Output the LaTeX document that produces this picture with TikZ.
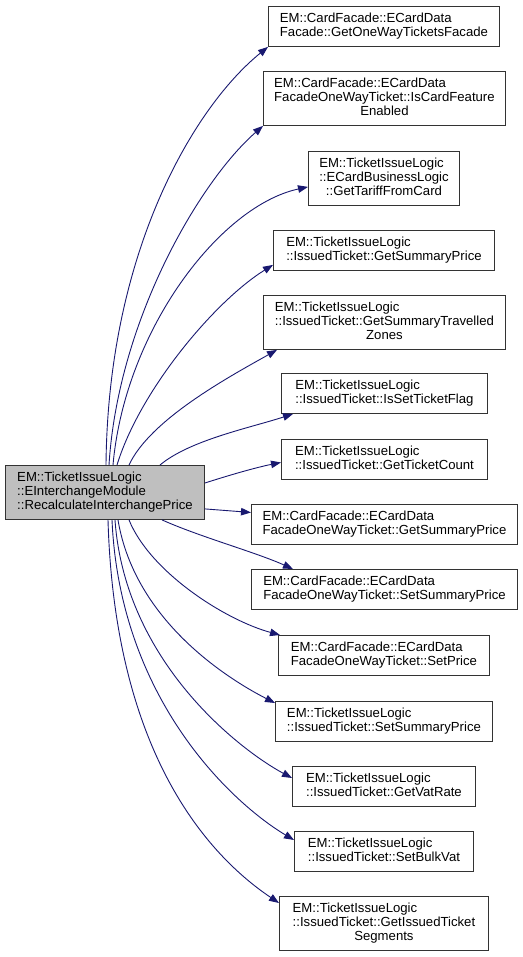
\documentclass[tikz,border=0pt]{standalone}
\usepackage{fontspec}
\setmainfont{Liberation Sans}
\usetikzlibrary{arrows.meta}
\definecolor{callc}{HTML}{191970}
\definecolor{boxc}{HTML}{333333}
\definecolor{mainfill}{HTML}{BFBFBF}
\newcommand{\fnl}[1]{\begin{tabular}{@{}l@{}}#1\end{tabular}}
\newcommand{\ctr}[1]{\multicolumn{1}{@{}c@{}}{#1}}
\tikzset{cg/.style={x=1bp,y=-1bp,font=\fontsize{13.2}{14}\selectfont},
  fn/.style={draw=boxc,line width=.9bp,fill=white,anchor=north west,inner sep=2bp},
  cl/.style={draw=callc,line width=.9bp,-{Triangle[length=10bp,width=7.5bp]}}}

\begin{document}
\begin{tikzpicture}[cg]
  \useasboundingbox (0,0) rectangle (523,957);
  \node[fn,fill=mainfill,minimum width=199bp,minimum height=54bp] (main) at (5,465) {\fnl{EM::TicketIssueLogic\\::EInterchangeModule\\::RecalculateInterchangePrice}};
  \foreach \n/\x/\y/\w/\h/\txt in {
    f1/268/6/231/40/{EM::CardFacade::ECardData\\Facade::GetOneWayTicketsFacade},
    f2/263/71/242/54/{EM::CardFacade::ECardData\\FacadeOneWayTicket::IsCardFeature\\\ctr{Enabled}},
    f3/308/151/151/54/{EM::TicketIssueLogic\\::ECardBusinessLogic\\\ctr{::GetTariffFromCard}},
    f4/273/230/221/40/{EM::TicketIssueLogic\\::IssuedTicket::GetSummaryPrice},
    f5/263/295/242/54/{EM::TicketIssueLogic\\::IssuedTicket::GetSummaryTravelled\\\ctr{Zones}},
    f6/281/373/206/40/{EM::TicketIssueLogic\\::IssuedTicket::IsSetTicketFlag},
    f7/281/439/206/40/{EM::TicketIssueLogic\\::IssuedTicket::GetTicketCount},
    f8/251/504/266/40/{EM::CardFacade::ECardData\\FacadeOneWayTicket::GetSummaryPrice},
    f9/251/569/266/40/{EM::CardFacade::ECardData\\FacadeOneWayTicket::SetSummaryPrice},
    f10/278/635/211/40/{EM::CardFacade::ECardData\\FacadeOneWayTicket::SetPrice},
    f11/275/701/217/40/{EM::TicketIssueLogic\\::IssuedTicket::SetSummaryPrice},
    f12/292/766/183/40/{EM::TicketIssueLogic\\::IssuedTicket::GetVatRate},
    f13/294/831/179/40/{EM::TicketIssueLogic\\::IssuedTicket::SetBulkVat},
    f14/279/896/209/54/{EM::TicketIssueLogic\\::IssuedTicket::GetIssuedTicket\\\ctr{Segments}}}
    {\node[fn,minimum width=\w bp,minimum height=\h bp] (\n) at (\x,\y) {\fnl{\txt}};}
  \draw[cl] (main.north west) ++(101,0) .. controls +(2,-215) and +(-73,59) .. (f1.south west);
  \draw[cl] (main.north west) ++(104,0) .. controls +(9,-145) and +(-63,55) .. (f2.south west);
  \draw[cl] (main.north west) ++(108,0) .. controls +(12,-135) and +(-88,19) .. ([yshift=19bp]f3.south west);
  \draw[cl] (main.north west) ++(112,0) .. controls +(23,-75) and +(-58,36) .. ([yshift=6bp]f4.south west);
  \draw[cl] (main.north west) ++(124,0) .. controls +(21,-45) and +(-50,28) .. ([xshift=14bp]f5.south west);
  \draw[cl] (main.north west) ++(155,0) .. controls +(30,-25) and +(-43,14) .. ([xshift=12bp]f6.south west);
  \draw[cl] (main.north east) ++(0,18) .. controls +(25,-8) and +(-25,5) .. ([yshift=-3bp]f7.west);
  \draw[cl] (main.south east) ++(0,-11) -- ([yshift=12bp]f8.west);
  \draw[cl] (main.south west) ++(157,0) .. controls +(38,17) and +(-38,-17) .. ([xshift=42bp]f9.north west);
  \draw[cl] (main.south west) ++(124,0) .. controls +(21,52) and +(-55,-15) .. ([xshift=2bp]f10.north west);
  \draw[cl] (main.south west) ++(113,0) .. controls +(17,102) and +(-45,-23) .. ([yshift=-2bp]f11.north west);
  \draw[cl] (main.south west) ++(110,0) .. controls +(10,142) and +(-52,-28) .. ([yshift=-12bp]f12.north west);
  \draw[cl] (main.south west) ++(107,0) .. controls +(8,182) and +(-59,-35) .. ([yshift=-9bp]f13.north west);
  \draw[cl] (main.south west) ++(103,0) .. controls +(7,242) and +(-64,-43) .. ([yshift=-7bp]f14.north west);
\end{tikzpicture}
\end{document}
